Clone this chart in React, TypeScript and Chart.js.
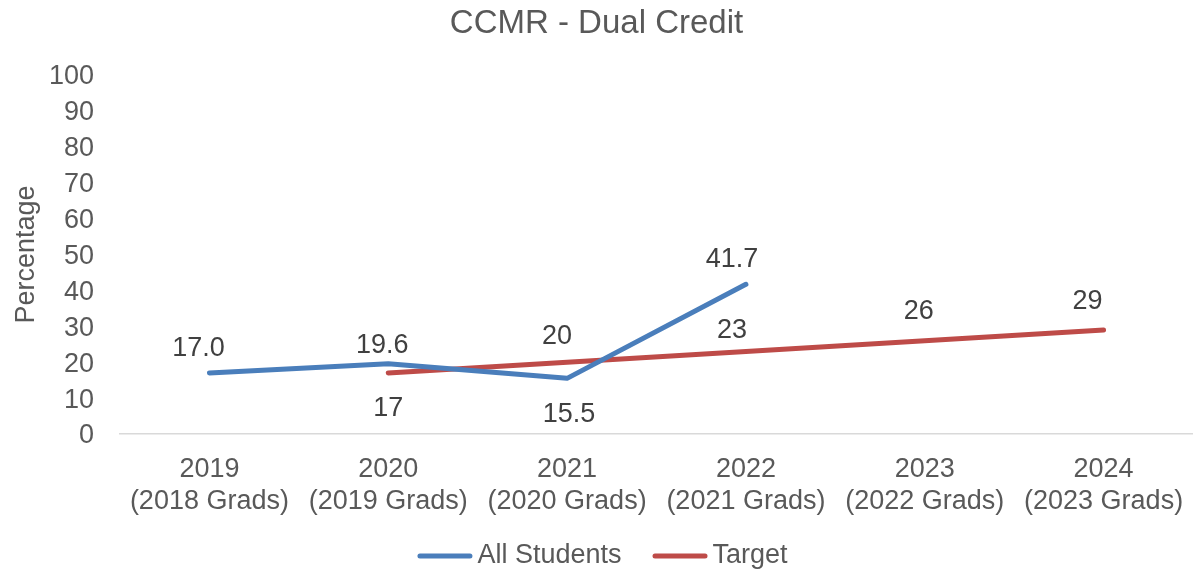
import React, { useEffect, useRef } from "react";
import { Chart, registerables } from "chart.js";

Chart.register(...registerables);

// ---- Data ----
const chartTitle = "CCMR - Dual Credit";
const yAxisTitle = "Percentage";
const categories: string[][] = [
  ["2019", "(2018 Grads)"],
  ["2020", "(2019 Grads)"],
  ["2021", "(2020 Grads)"],
  ["2022", "(2021 Grads)"],
  ["2023", "(2022 Grads)"],
  ["2024", "(2023 Grads)"],
];
const allStudentsLabel = "All Students";
const allStudents: (number | null)[] = [17.0, 19.6, 15.5, 41.7, null, null];
const targetLabel = "Target";
const target: (number | null)[] = [null, 17, 20, 23, 26, 29];
const yMin = 0;
const yMax = 100;
const yStep = 10;

// ---- Styles ----
const FONT = '"Liberation Sans", Arial, sans-serif';
const TICK_COLOR = "#595959";
const LABEL_COLOR = "#404040";
const BLUE = "#4A7EBB";
const RED = "#BE4B48";
// data-label offsets from the point (dx, dy) in px
const allStudentsLabelOffsets: ([number, number] | null)[] = [[-11, -24], [-6, -18], [2, 36], [-14, -25], null, null];
const targetLabelOffsets: ([number, number] | null)[] = [null, [0, 36], [-10, -26], [-14, -21], [-6, -29], [-16, -28]];

const dataLabelPlugin = {
  id: "dataLabels",
  afterDatasetsDraw(chart: any) {
    const ctx = chart.ctx;
    ctx.save();
    ctx.font = `27px ${FONT}`;
    ctx.fillStyle = LABEL_COLOR;
    ctx.textAlign = "center";
    ctx.textBaseline = "middle";
    chart.data.datasets.forEach((ds: any, di: number) => {
      const meta = chart.getDatasetMeta(di);
      ds.data.forEach((v: number | null, i: number) => {
        if (v === null || v === undefined) return;
        const pt = meta.data[i];
        const off = (ds.labelOffsets && ds.labelOffsets[i]) || [0, -24];
        const text = ds.labelDecimals ? v.toFixed(ds.labelDecimals) : String(v);
        ctx.fillText(text, pt.x + off[0], pt.y + off[1]);
      });
    });
    ctx.restore();
  },
};

const legendPlugin = {
  id: "customLegend",
  afterDraw(chart: any) {
    const ctx = chart.ctx;
    ctx.save();
    ctx.font = `27px ${FONT}`;
    ctx.textBaseline = "middle";
    ctx.textAlign = "left";
    const lineLen = 50;
    const cap = 2.5;
    const gapText = 5;
    const gapItem = 31;
    const items = chart.data.datasets.map((ds: any) => ({
      label: ds.label,
      color: ds.borderColor,
      w: ctx.measureText(ds.label).width,
    }));
    let total = 0;
    items.forEach((it: any, i: number) => {
      total += cap * 2 + lineLen + gapText + it.w + (i > 0 ? gapItem : 0);
    });
    let x = chart.width / 2 + 6 - total / 2;
    const y = 556;
    items.forEach((it: any) => {
      ctx.strokeStyle = it.color;
      ctx.lineWidth = 5;
      ctx.lineCap = "round";
      ctx.beginPath();
      ctx.moveTo(x + cap, y);
      ctx.lineTo(x + cap + lineLen, y);
      ctx.stroke();
      x += cap * 2 + lineLen + gapText;
      ctx.fillStyle = TICK_COLOR;
      ctx.fillText(it.label, x, y);
      x += it.w + gapItem;
    });
    ctx.restore();
  },
};

export default function App() {
  const canvasRef = useRef<HTMLCanvasElement | null>(null);

  useEffect(() => {
    if (!canvasRef.current) return;
    const chart = new Chart(canvasRef.current, {
      type: "line",
      data: {
        labels: categories,
        datasets: [
          {
            label: allStudentsLabel,
            data: allStudents,
            borderColor: BLUE,
            backgroundColor: BLUE,
            borderWidth: 5,
            borderCapStyle: "round",
            borderJoinStyle: "round",
            pointRadius: 0,
            pointHoverRadius: 0,
            tension: 0,
            fill: false,
            labelDecimals: 1,
            labelOffsets: allStudentsLabelOffsets,
          } as any,
          {
            label: targetLabel,
            data: target,
            borderColor: RED,
            backgroundColor: RED,
            borderWidth: 5,
            borderCapStyle: "round",
            borderJoinStyle: "round",
            pointRadius: 0,
            pointHoverRadius: 0,
            tension: 0,
            fill: false,
            labelDecimals: 0,
            labelOffsets: targetLabelOffsets,
          } as any,
        ],
      },
      options: {
        responsive: true,
        maintainAspectRatio: false,
        animation: false,
        layout: { padding: { top: 0, left: 0, right: 0, bottom: 0 } },
        plugins: {
          legend: { display: false },
          tooltip: { enabled: false },
          title: {
            display: true,
            text: chartTitle,
            color: TICK_COLOR,
            font: { family: FONT, size: 33, weight: "normal" },
            padding: { top: 4.2, bottom: 31.2 },
          },
        },
        scales: {
          x: {
            type: "category",
            offset: true,
            grid: { display: false, drawTicks: false },
            border: { display: true, color: "#D9D9D9", width: 1.5 },
            ticks: {
              color: TICK_COLOR,
              font: { family: FONT, size: 27 },
              padding: 19,
              maxRotation: 0,
              autoSkip: false,
            },
            afterFit(scale: any) {
              scale.height = 137;
              scale.paddingLeft = 0;
              scale.paddingRight = 0;
            },
          },
          y: {
            min: yMin,
            max: yMax,
            grid: { display: false, drawTicks: false },
            border: { display: false },
            ticks: {
              stepSize: yStep,
              color: TICK_COLOR,
              font: { family: FONT, size: 27 },
              padding: 26,
              labelOffset: 2,
            },
            title: {
              display: true,
              text: yAxisTitle,
              color: TICK_COLOR,
              font: { family: FONT, size: 27 },
              padding: { top: 10, bottom: 0 },
            },
            afterFit(scale: any) {
              scale.width = 120;
            },
          },
        },
      },
      plugins: [dataLabelPlugin, legendPlugin],
    });
    return () => chart.destroy();
  }, []);

  return (
    <div style={{ position: "absolute", left: 0, top: 0, width: 1193, height: 571 }}>
      <canvas ref={canvasRef} />
    </div>
  );
}
